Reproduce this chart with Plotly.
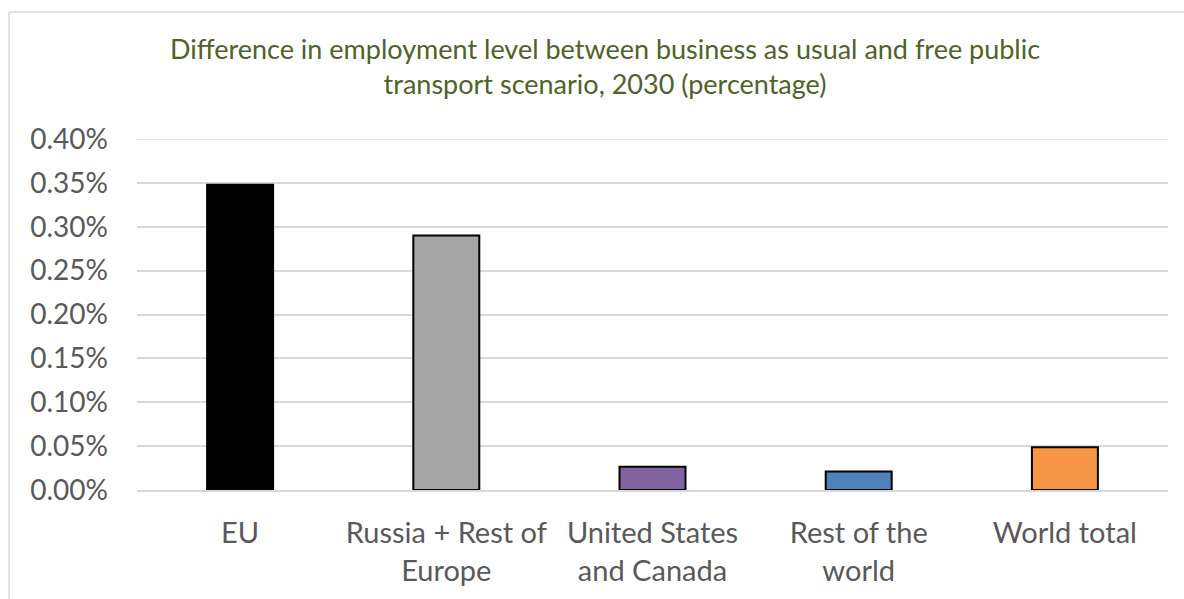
import plotly.graph_objects as go

# Regions and employment difference (share, 2030)
regions = ["EU", "Russia + Rest of<br>Europe", "United States<br>and Canada", "Rest of the<br>world", "World total"]
employment_diff = [0.00348, 0.00290, 0.000265, 0.000210, 0.000487]
bar_colors = ["#000000", "#a5a5a5", "#8064a2", "#4f81bd", "#f79646"]
y_ticks = [0.0, 0.0005, 0.001, 0.0015, 0.002, 0.0025, 0.003, 0.0035, 0.004]

title_text = ("Difference in employment level between business as usual and free public<br>"
              "transport scenario, 2030 (percentage)")

FONT = "Lato"
GRID = "#d9d9d9"

fig = go.Figure(
    go.Bar(
        x=regions,
        y=employment_diff,
        marker=dict(color=bar_colors, line=dict(color="#000000", width=2)),
        width=0.32,
    )
)

fig.update_layout(
    width=1184,
    height=599,
    margin=dict(l=137, r=16, t=139, b=109),
    paper_bgcolor="white",
    plot_bgcolor="white",
    showlegend=False,
    font=dict(family=FONT, color="#595959"),
    title=dict(
        text=title_text,
        x=0.511,
        xref="container",
        xanchor="center",
        y=0.902,
        yanchor="middle",
        font=dict(family=FONT, size=27, color="#4f6228"),
    ),
)

fig.update_yaxes(
    range=[0, 0.004],
    tickvals=y_ticks,
    tickformat=".2%",
    tickfont=dict(family=FONT, size=28, color="#595959"),
    showgrid=True,
    gridcolor=GRID,
    gridwidth=1.5,
    zeroline=False,
    showline=False,
    ticks="",
    ticklabelstandoff=28,
)

fig.update_xaxes(
    tickfont=dict(family=FONT, size=29, color="#595959"),
    showline=True,
    linecolor=GRID,
    linewidth=2,
    ticks="",
    ticklabelstandoff=16,
)

# Top gridline at the axis maximum
fig.add_shape(type="line", xref="paper", yref="y", x0=0, x1=1, y0=y_ticks[-1], y1=y_ticks[-1],
              line=dict(color=GRID, width=1.5), layer="below")

# Light outer frame around the chart area
x_left = (9 - 137) / 1031
y_top = (490 - 12) / 351
fig.add_shape(type="line", xref="paper", yref="paper", x0=x_left, x1=1.2, y0=y_top, y1=y_top,
              line=dict(color=GRID, width=1.5))
fig.add_shape(type="line", xref="paper", yref="paper", x0=x_left, x1=x_left, y0=y_top, y1=-0.5,
              line=dict(color=GRID, width=1.5))

fig.write_html("out.html")
